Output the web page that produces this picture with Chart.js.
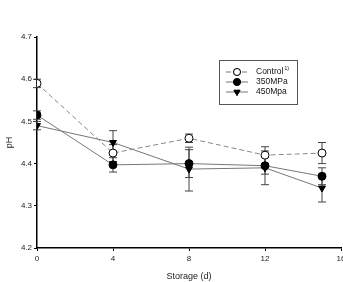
<!DOCTYPE html>
<html>
<head>
<meta charset="utf-8">
<script src="https://cdn.jsdelivr.net/npm/chart.js@4"></script>
<style>
  html, body { margin: 0; padding: 0; background: #fff; overflow: hidden; }
  #wrap { width: 343px; height: 282px; overflow: hidden; }
</style>
</head>
<body>
<div id="wrap"><canvas id="phChart" width="346" height="282"></canvas></div>
<script>
// storage days and pH readings
const days = [0, 4, 8, 12, 15];
const controlPH = [4.59, 4.425, 4.46, 4.42, 4.425];
const mpa350PH = [4.515, 4.397, 4.40, 4.395, 4.37];
const mpa450PH = [4.49, 4.45, 4.387, 4.39, 4.342];
// standard deviations
const controlErr = [0.01, 0.02, 0.01, 0.02, 0.025];
const mpa350Err = [0.01, 0.017, 0.033, 0.02, 0.02];
const mpa450Err = [0.01, 0.028, 0.052, 0.04, 0.033];
const seriesNames = ['Control', '350MPa', '450Mpa'];
const xTicks = [0, 4, 8, 12, 16];
const yTicks = [4.2, 4.3, 4.4, 4.5, 4.6, 4.7];

const FONT = 'Liberation Sans, Arial, sans-serif';

function toPoints(values) {
  return days.map((d, i) => ({ x: d, y: values[i] }));
}

// Error bars, drawn under the markers
const errorBars = {
  id: 'errorBars',
  beforeDatasetsDraw(chart) {
    const ctx = chart.ctx;
    const xs = chart.scales.x;
    const ys = chart.scales.y;
    ctx.save();
    ctx.strokeStyle = '#444';
    ctx.lineWidth = 1;
    chart.data.datasets.forEach((ds) => {
      ds.data.forEach((p, i) => {
        const e = ds.errors[i];
        const px = xs.getPixelForValue(p.x);
        const top = ys.getPixelForValue(p.y + e);
        const bot = ys.getPixelForValue(p.y - e);
        ctx.beginPath();
        ctx.moveTo(px, top);
        ctx.lineTo(px, bot);
        ctx.moveTo(px - 4, top);
        ctx.lineTo(px + 4, top);
        ctx.moveTo(px - 4, bot);
        ctx.lineTo(px + 4, bot);
        ctx.stroke();
      });
    });
    ctx.restore();
  },
};

// Boxed legend with line + marker samples
const boxLegend = {
  id: 'boxLegend',
  afterDraw(chart) {
    const ctx = chart.ctx;
    const bx = 219, by = 60, bw = 78, bh = 44;
    ctx.save();
    ctx.strokeStyle = '#555';
    ctx.lineWidth = 1;
    ctx.strokeRect(bx + 0.5, by + 0.5, bw, bh);
    chart.data.datasets.forEach((ds, i) => {
      const yy = by + 12 + i * 10;
      ctx.strokeStyle = '#777';
      ctx.lineWidth = 1;
      ctx.setLineDash(ds.borderDash || []);
      ctx.beginPath();
      ctx.moveTo(bx + 7, yy);
      ctx.lineTo(bx + 29, yy);
      ctx.stroke();
      ctx.setLineDash([]);
      Chart.helpers.drawPoint(ctx, {
        pointStyle: ds.pointStyle,
        radius: 3.5,
        rotation: ds.rotation || 0,
        borderWidth: 1,
      }, bx + 18, yy);
      ctx.fillStyle = ds.pointBackgroundColor;
      ctx.strokeStyle = '#000';
      ctx.fill();
      ctx.stroke();
      ctx.fillStyle = '#111';
      ctx.font = '8.5px ' + FONT;
      ctx.textBaseline = 'middle';
      ctx.textAlign = 'left';
      ctx.fillText(ds.label, bx + 37, yy);
      if (i === 0) {
        const w = ctx.measureText(ds.label).width;
        ctx.font = '5px ' + FONT;
        ctx.fillText('1)', bx + 38 + w, yy - 3);
      }
    });
    ctx.restore();
  },
};

new Chart(document.getElementById('phChart'), {
  type: 'line',
  data: {
    datasets: [
      {
        label: seriesNames[0],
        data: toPoints(controlPH),
        errors: controlErr,
        borderColor: '#888',
        borderWidth: 1,
        borderDash: [5, 3],
        pointStyle: 'circle',
        pointRadius: 4,
        pointBackgroundColor: '#fff',
        pointBorderColor: '#000',
        pointBorderWidth: 1,
      },
      {
        label: seriesNames[1],
        data: toPoints(mpa350PH),
        errors: mpa350Err,
        borderColor: '#777',
        borderWidth: 1,
        pointStyle: 'circle',
        pointRadius: 4,
        pointBackgroundColor: '#000',
        pointBorderColor: '#000',
        pointBorderWidth: 1,
      },
      {
        label: seriesNames[2],
        data: toPoints(mpa450PH),
        errors: mpa450Err,
        borderColor: '#777',
        borderWidth: 1,
        pointStyle: 'triangle',
        rotation: 180,
        pointRotation: 180,
        pointRadius: 4,
        pointBackgroundColor: '#000',
        pointBorderColor: '#000',
        pointBorderWidth: 1,
      },
    ],
  },
  options: {
    responsive: false,
    animation: false,
    layout: { padding: { top: 37, right: 2, left: 4, bottom: 0 } },
    plugins: {
      legend: { display: false },
      tooltip: { enabled: false },
    },
    scales: {
      x: {
        type: 'linear',
        min: 0,
        max: 16,
        afterBuildTicks: (scale) => {
          scale.ticks = xTicks.map((v) => ({ value: v }));
        },
        afterFit: (scale) => {
          scale.paddingRight = 0;
          scale.height = 34;
        },
        ticks: { color: '#222', font: { family: FONT, size: 8 }, padding: 3 },
        grid: { display: true, drawOnChartArea: false, tickLength: 3, color: '#000' },
        border: { color: '#000', width: 1.5 },
        title: {
          display: true,
          text: 'Storage (d)',
          color: '#222',
          font: { family: FONT, size: 9 },
          padding: { top: 4, bottom: 0 },
        },
      },
      y: {
        type: 'linear',
        min: 4.2,
        max: 4.7,
        afterBuildTicks: (scale) => {
          scale.ticks = yTicks.map((v) => ({ value: v }));
        },
        afterFit: (scale) => {
          scale.width = 33;
        },
        ticks: {
          color: '#222',
          font: { family: FONT, size: 8 },
          padding: 2,
          callback: (v) => v.toFixed(1),
        },
        grid: { display: true, drawOnChartArea: false, tickLength: 3, color: '#000' },
        border: { color: '#000', width: 1.5 },
        title: {
          display: true,
          text: 'pH',
          color: '#222',
          font: { family: FONT, size: 9 },
          padding: 0,
        },
      },
    },
  },
  plugins: [errorBars, boxLegend],
});
</script>
</body>
</html>
